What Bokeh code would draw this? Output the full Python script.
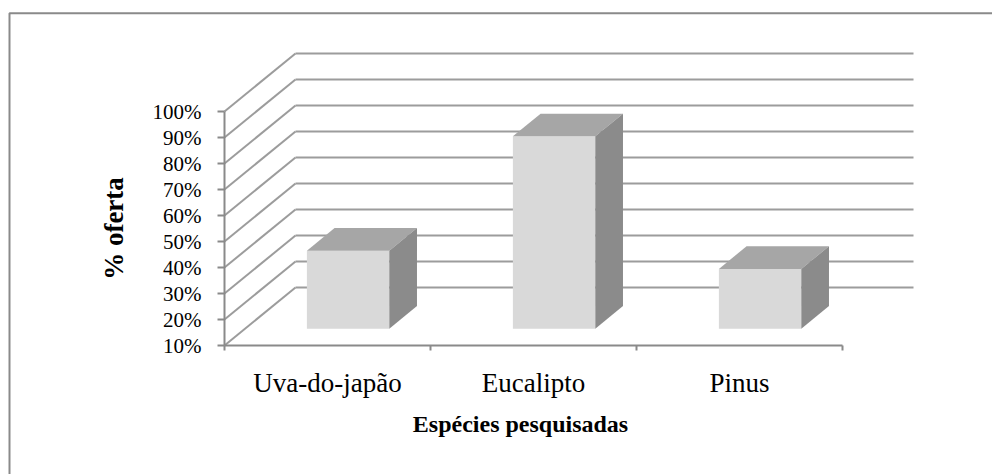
from bokeh.plotting import figure
from bokeh.models import Range1d, LinearAxis, FixedTicker, PrintfTickFormatter, ColumnDataSource, Label
from bokeh.embed import file_html
from bokeh.resources import INLINE

# ---------------- data ----------------
categories = ["Uva-do-japão", "Eucalipto", "Pinus"]
values = [40, 84, 33]            # % oferta
y_ticks = [10, 20, 30, 40, 50, 60, 70, 80, 90, 100]
y_floor = 10
y_top = 100
x_title = "Espécies pesquisadas"
y_title = "% oferta"

# ---------------- layout (pixels) ----------------
W, H = 992, 474
AX_X = 224          # px of front value axis
CAT_W = 206         # px per category
FLOOR_PX = 345      # px of the floor (10 %) on front plane
PX_PER_PCT = 2.6
DEPTH_PX_X, DEPTH_PX_Y = 71, 58   # oblique depth vector (px)

def xd(px):
    return (px - AX_X) / CAT_W

def yd(px):
    return y_floor + (FLOOR_PX - px) / PX_PER_PCT

DX = DEPTH_PX_X / CAT_W
DY = DEPTH_PX_Y / PX_PER_PCT
n = len(categories)

GRID = "#9c9c9c"
AXIS = "#8a8a8a"
FRONT = "#d9d9d9"
TOP = "#a6a6a6"
SIDE = "#8b8b8b"
FONT = "Liberation Serif"

p = figure(width=W, height=H, output_backend="svg", toolbar_location=None,
           x_range=Range1d(xd(0), xd(W)), y_range=Range1d(yd(H), yd(0)),
           x_axis_type=None, y_axis_type=None, min_border=0)
p.title.visible = False
p.outline_line_color = None
p.background_fill_color = "white"
p.border_fill_color = "white"

# chart border (left and top edges visible)
p.line(x=[xd(9), xd(9), xd(W + 10)], y=[yd(H + 10), yd(12.7), yd(12.7)],
       line_color="#8a8a8a", line_width=2)

# back wall gridlines and side wall diagonals
back_xs = [[DX, n + DX] for t in y_ticks]
back_ys = [[t + DY, t + DY] for t in y_ticks]
side_xs = [[0, DX] for t in y_ticks]
side_ys = [[t, t + DY] for t in y_ticks]
p.multi_line(xs=back_xs + side_xs, ys=back_ys + side_ys, line_color=GRID, line_width=2)

# 3D bars
f1 = 0.29   # depth fraction of front face
fd = 0.39   # bar depth fraction
bw = 0.4
b0 = [i + 0.3 for i in range(n)]
b1 = [i + 0.3 + bw for i in range(n)]

front = ColumnDataSource(dict(
    left=[a + f1 * DX for a in b0],
    right=[b + f1 * DX for b in b1],
    bottom=[y_floor + f1 * DY] * n,
    top=[v + f1 * DY for v in values]))
p.quad(left="left", right="right", bottom="bottom", top="top", source=front,
       fill_color=FRONT, line_color=None)

f2 = f1 + fd
top_xs = [[a + f1 * DX, b + f1 * DX, b + f2 * DX, a + f2 * DX] for a, b in zip(b0, b1)]
top_ys = [[v + f1 * DY, v + f1 * DY, v + f2 * DY, v + f2 * DY] for v in values]
p.patches(xs=top_xs, ys=top_ys, fill_color=TOP, line_color=None)

side_bx = [[b + f1 * DX, b + f2 * DX, b + f2 * DX, b + f1 * DX] for b in b1]
side_by = [[y_floor + f1 * DY, y_floor + f2 * DY, v + f2 * DY, v + f1 * DY] for v in values]
p.patches(xs=side_bx, ys=side_by, fill_color=SIDE, line_color=None)

# value axis (front, left)
yaxis = LinearAxis(fixed_location=0, bounds=(y_floor, y_top),
                   ticker=FixedTicker(ticks=y_ticks),
                   formatter=PrintfTickFormatter(format="%d%%"))
yaxis.axis_line_color = AXIS
yaxis.axis_line_width = 2
yaxis.major_tick_line_color = AXIS
yaxis.major_tick_line_width = 2
yaxis.major_tick_out = 7
yaxis.major_tick_in = 0
yaxis.minor_tick_line_color = None
yaxis.major_label_standoff = 16
yaxis.major_label_text_font = FONT
yaxis.major_label_text_font_size = "21px"
yaxis.major_label_text_color = "black"
yaxis.axis_label = y_title
yaxis.axis_label_text_font = FONT
yaxis.axis_label_text_font_size = "27px"
yaxis.axis_label_text_font_style = "bold"
yaxis.axis_label_text_color = "black"
yaxis.axis_label_standoff = 21
p.add_layout(yaxis, "left")

# category axis (front, bottom)
centers = [i + 0.5 for i in range(n)]
xaxis = LinearAxis(fixed_location=y_floor, bounds=(0, n),
                   ticker=FixedTicker(ticks=centers, minor_ticks=list(range(n + 1))))
xaxis.major_label_overrides = {c: lab for c, lab in zip(centers, categories)}
xaxis.axis_line_color = AXIS
xaxis.axis_line_width = 2
xaxis.major_tick_out = 0
xaxis.major_tick_in = 0
xaxis.major_tick_line_color = None
xaxis.minor_tick_line_color = AXIS
xaxis.minor_tick_line_width = 2
xaxis.minor_tick_out = 5
xaxis.minor_tick_in = 0
xaxis.major_label_standoff = 17
xaxis.major_label_text_font = FONT
xaxis.major_label_text_font_size = "27px"
xaxis.major_label_text_color = "black"
p.add_layout(xaxis, "below")

# category-axis title (placed like the reference, slightly left of centre)
p.add_layout(Label(x=xd(520), y=yd(423), text=x_title, text_align="center",
                   text_baseline="middle", text_font=FONT, text_font_size="24px",
                   text_font_style="bold", text_color="black"))

open("out.html", "w").write(file_html(p, INLINE))
